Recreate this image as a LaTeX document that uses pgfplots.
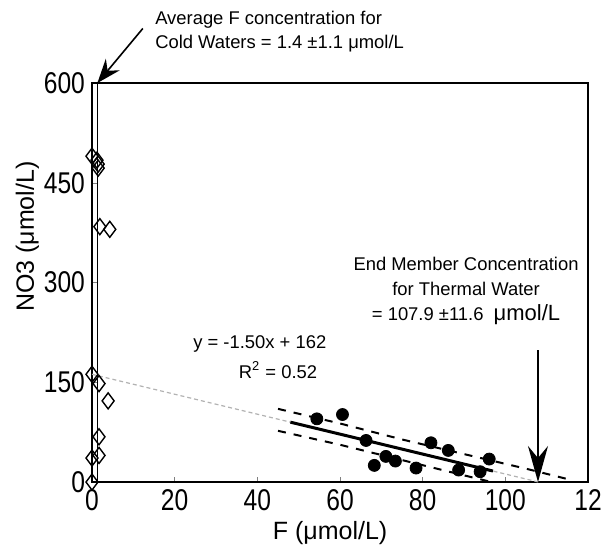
\documentclass[border=0pt]{standalone}
\usepackage{fontspec}
\setmainfont{Liberation Sans}
\newfontfamily\tickfont[FakeStretch=0.82]{Liberation Sans}
\usepackage{pgfplots}
\pgfplotsset{compat=1.18}
\usetikzlibrary{arrows.meta}

\begin{document}
\begin{tikzpicture}
  \useasboundingbox (-46pt,-33pt) rectangle (255.5pt,241pt);
  \begin{axis}[
    at={(0,0)}, anchor=south west,
    width=248pt, height=199.5pt, scale only axis,
    xmin=0, xmax=120, ymin=0, ymax=600,
    xtick={0,20,...,120}, ytick={0,150,...,600},
    xticklabels={0,20,40,60,80,100,12},
    tick pos=left, tick align=inside, major tick length=2.5pt,
    /pgf/number format/assume math mode=true,
    tick label style={font=\tickfont\fontsize{15}{15}\selectfont},
    xlabel={F (μmol/L)}, ylabel={NO3 (μmol/L)},
    label style={font=\fontsize{12.5}{12.5}\selectfont},
    xlabel style={at={(axis description cs:0.48,-0.128)}, anchor=center},
    ylabel style={at={(axis description cs:-0.13,0.615)}, anchor=center},
    axis line style={line width=0.8pt},
    clip=false,
  ]
    % mixing line and 95% bands
    \addplot[gray!60, line width=0.6pt, dash pattern=on 2pt off 1.5pt] coordinates {(0,162) (108,0)};
    \addplot[black, line width=1pt, dash pattern=on 4pt off 4pt] coordinates {
      (45,110) (60,88) (75,64) (90,42) (105,20) (116,3)};
    \addplot[black, line width=1pt, dash pattern=on 4pt off 4pt] coordinates {
      (45,77) (60,56) (75,33) (90,10) (96,1)};
    \addplot[black, line width=1.5pt] coordinates {(48,90) (97,16.5)};
    % average F of cold waters
    \addplot[black, line width=0.6pt] coordinates {(1.4,0) (1.4,600)};

    % cold waters
    \addplot[only marks, mark=diamond, mark size=4pt, mark options={draw=black, fill=white, line width=0.7pt}] coordinates {
      (0,490) (1.2,484) (1.5,478) (1.5,472) (1.9,384) (4.3,380)
      (0,162) (1.7,148) (3.9,122) (1.7,68) (0,36) (1.7,40) (0,0)};
    % thermal waters
    \addplot[only marks, mark=*, mark size=3pt, mark options={draw=black, fill=black}] coordinates {
      (54.4,95) (60.6,101.5) (66.3,62.5) (68.3,25) (71.1,38.5) (73.4,31.5)
      (78.4,21) (82,59) (86.2,47.5) (88.7,18) (93.9,15.5) (96.1,34.5)};

    \node[anchor=west, align=left, font=\fontsize{9.2}{12}\selectfont] at (axis cs:13.6,678)
      {Average F concentration for\\Cold Waters = 1.4 ±1.1 μmol/L};
    \draw[-{Stealth[length=12pt,width=9pt,inset=4pt]}, line width=0.8pt]
      (axis cs:12.3,682) -- (axis cs:1.3,600);

    \node[align=center, font=\fontsize{9.2}{12.5}\selectfont] at (axis cs:90.5,287)
      {End Member Concentration\\for Thermal Water\\= 107.9 ±11.6 \ {\fontsize{11}{12.5}\selectfont μmol/L}};
    \draw[-{Stealth[length=18pt,width=10pt,inset=6pt]}, line width=0.8pt]
      (axis cs:107.9,198) -- (axis cs:107.9,0);

    \node[font=\fontsize{9.2}{11}\selectfont] at (axis cs:40.6,208) {y = -1.50x + 162};
    \node[font=\fontsize{9.2}{11}\selectfont] at (axis cs:45,168) {R\textsuperscript{2} = 0.52};
  \end{axis}
\end{tikzpicture}
\end{document}
